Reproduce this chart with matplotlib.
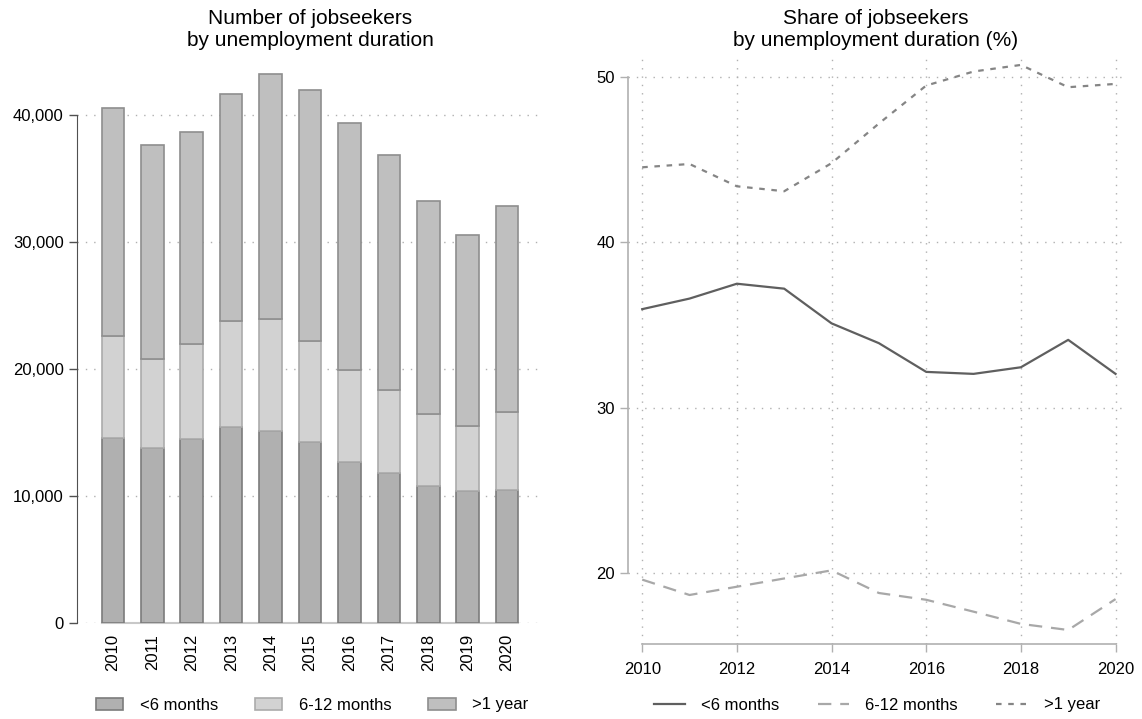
import matplotlib
matplotlib.use("Agg")
import matplotlib.pyplot as plt
from matplotlib.patches import Patch
from matplotlib.lines import Line2D
from matplotlib.ticker import FuncFormatter

plt.rcParams['font.family'] = ['Liberation Sans', 'DejaVu Sans']

years = [2010, 2011, 2012, 2013, 2014, 2015, 2016, 2017, 2018, 2019, 2020]
under6 = [14590, 13750, 14460, 15460, 15140, 14250, 12680, 11790, 10790, 10390, 10500]
m6_12 = [7980, 7040, 7480, 8290, 8820, 7930, 7240, 6560, 5690, 5120, 6110]
over1y = [18005, 16820, 16750, 17900, 19240, 19810, 19470, 18480, 16770, 15040, 16220]

share_under6 = [35.96, 36.6, 37.5, 37.2, 35.1, 33.9, 32.16, 32.04, 32.44, 34.1, 32.04]
share_6_12 = [19.58, 18.65, 19.15, 19.65, 20.14, 18.77, 18.36, 17.64, 16.9, 16.53, 18.4]
share_over1 = [44.55, 44.75, 43.4, 43.1, 44.8, 47.2, 49.5, 50.35, 50.75, 49.4, 49.6]

labels = ['<6 months', '6-12 months', '>1 year']
bar_fill = ['#b0b0b0', '#d2d2d2', '#bfbfbf']
bar_edge = ['#7c7c7c', '#ababab', '#8e8e8e']

W, H = 1142, 719
fig = plt.figure(figsize=(W / 100, H / 100), dpi=100)

def ax_rect(x0, x1, ytop, ybot):
    return [x0 / W, 1 - ybot / H, (x1 - x0) / W, (ybot - ytop) / H]

FS = 12
TFS = 15

# ---------- Left: stacked bars ----------
ax1 = fig.add_axes(ax_rect(77, 543, 60, 623))
x = list(range(len(years)))
bw = 0.57
bottom2 = [a for a in under6]
bottom3 = [a + b for a, b in zip(under6, m6_12)]
ax1.bar(x, under6, width=bw, color=bar_fill[0], edgecolor=bar_edge[0], linewidth=1.2, zorder=3)
ax1.bar(x, m6_12, width=bw, bottom=bottom2, color=bar_fill[1], edgecolor=bar_edge[1], linewidth=1.2, zorder=3)
ax1.bar(x, over1y, width=bw, bottom=bottom3, color=bar_fill[2], edgecolor=bar_edge[2], linewidth=1.2, zorder=3)
ax1.set_xlim(-0.91, 10.91)
ax1.set_ylim(0, 44330)
ax1.set_yticks([0, 10000, 20000, 30000, 40000])
ax1.yaxis.set_major_formatter(FuncFormatter(lambda v, p: f"{int(v):,}"))
ax1.set_xticks(x)
ax1.set_xticklabels([str(y) for y in years], rotation=90, fontsize=FS)
ax1.tick_params(axis='x', length=0, pad=8)
ax1.tick_params(axis='y', labelsize=FS, length=6, color='#505050', width=1)
ax1.grid(axis='y', linestyle=(0, (1, 5)), color='#b0b0b0', linewidth=1, zorder=0)
for s in ['top', 'right']:
    ax1.spines[s].set_visible(False)
ax1.spines['left'].set_bounds(0, 40000)
ax1.spines['left'].set_color('#505050')
ax1.spines['bottom'].set_bounds(-bw / 2, 10 + bw / 2)
ax1.spines['bottom'].set_color('#c8c8c8')
ax1.spines['bottom'].set_linewidth(1.5)
fig.text(310 / W, 1 - 29 / H, 'Number of jobseekers\nby unemployment duration', fontsize=TFS,
         ha='center', va='center', linespacing=1.2)

handles1 = [Patch(facecolor=bar_fill[i], edgecolor=bar_edge[i], linewidth=1.2, label=labels[i]) for i in range(3)]
fig.legend(handles=handles1, loc='center', bbox_to_anchor=(312 / W, 1 - 705 / H), ncol=3, frameon=False,
           fontsize=FS, handlelength=1.65, handleheight=0.75, handletextpad=1.0, columnspacing=2.2)

# ---------- Right: line chart ----------
ax2 = fig.add_axes(ax_rect(628, 1125, 56, 643.7))
ax2.plot(years, share_under6, color='#5f5f5f', linewidth=1.6, linestyle='-', label=labels[0], zorder=3)
ax2.plot(years, share_6_12, color='#a8a8a8', linewidth=1.6, linestyle=(0, (6, 4)), label=labels[1], zorder=3)
ax2.plot(years, share_over1, color='#858585', linewidth=1.6, linestyle=(0, (2.5, 3)), label=labels[2], zorder=3)
ax2.set_xlim(2009.7, 2020.2)
ax2.set_ylim(15.7, 51.29)
ax2.set_xticks([2010, 2012, 2014, 2016, 2018, 2020])
ax2.set_yticks([20, 30, 40, 50])
ax2.tick_params(axis='both', labelsize=FS, length=6, color='#b0b0b0', width=1)
ax2.tick_params(axis='x', pad=7)
ax2.grid(True, linestyle=(0, (1, 5)), color='#b0b0b0', linewidth=1, zorder=0)
for s in ['top', 'right']:
    ax2.spines[s].set_visible(False)
ax2.spines['left'].set_bounds(20, 50)
ax2.spines['bottom'].set_bounds(2010, 2020)
ax2.spines['left'].set_color('#b0b0b0')
ax2.spines['bottom'].set_color('#b0b0b0')
ax2.spines['left'].set_linewidth(1.2)
ax2.spines['bottom'].set_linewidth(1.2)
fig.text(876 / W, 1 - 29 / H, 'Share of jobseekers\nby unemployment duration (%)', fontsize=TFS,
         ha='center', va='center', linespacing=1.2)

handles2 = [Line2D([], [], color='#5f5f5f', linewidth=1.6, linestyle='-'),
            Line2D([], [], color='#a8a8a8', linewidth=1.6, linestyle=(0, (6, 4))),
            Line2D([], [], color='#858585', linewidth=1.6, linestyle=(0, (2.5, 3)))]
fig.legend(handles=handles2, labels=labels, loc='center', bbox_to_anchor=(877 / W, 1 - 705 / H), ncol=3,
           frameon=False, fontsize=FS, handlelength=1.85, handletextpad=1.0, columnspacing=2.3)

fig.savefig('out.png', dpi=100, facecolor='white')
